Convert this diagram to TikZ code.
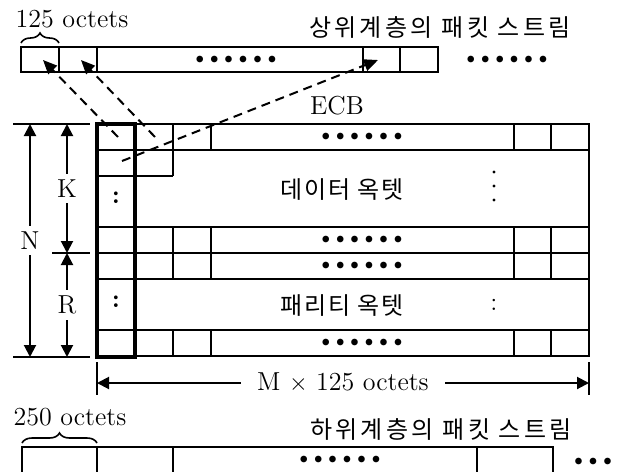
\documentclass[tikz,border=0pt]{standalone}
\usepackage{fontspec}
\newfontfamily\krfont[LetterSpace=14]{Noto Sans CJK KR}
\newfontfamily\krcell[LetterSpace=8]{Noto Sans CJK KR}
\usetikzlibrary{arrows.meta,decorations.pathreplacing}

\newcommand{\sixdots}{$\bullet$\hspace{3pt}$\bullet$\hspace{3pt}$\bullet$\hspace{3pt}$\bullet$\hspace{3pt}$\bullet$\hspace{3pt}$\bullet$}
\newcommand{\threedots}{$\bullet$\hspace{3pt}$\bullet$\hspace{3pt}$\bullet$}

\begin{document}
\begin{tikzpicture}[x=0.5pt, y=-0.5pt,
    cell/.style={draw, line width=1pt},
    col/.style={draw, line width=1.6pt},
    lbl/.style={font=\fontsize{13}{15}\selectfont, inner sep=1pt},
    krlbl/.style={font=\krfont\large, inner sep=1pt},
    krin/.style={font=\krcell\large, inner sep=1pt},
    dots/.style={font=\footnotesize, inner sep=0pt},
    dim/.style={{Triangle[length=6pt,width=6pt]}-{Triangle[length=6pt,width=6pt]}, line width=1pt},
    link/.style={-{Triangle[length=7pt,width=6pt]}, dash pattern=on 4.5pt off 3pt, line width=1pt},
    brace/.style={decorate, decoration={brace, amplitude=5pt}, line width=0.8pt}
]
\useasboundingbox (0,0) rectangle (619,471);
\clip (0,0) rectangle (619,471);

% Upper layer packet stream
\draw[cell] (21,47) rectangle (438,72);
\draw[cell] (59,47) -- (59,72) (97,47) -- (97,72) (363,47) -- (363,72) (400,47) -- (400,72);
\node[dots] (updots) at (236,60) {\sixdots};
\node[dots] (upmore) at (507,60) {\sixdots};
\draw[brace] (21,43) -- (59,43);
\node[lbl] (up125) at (72,19) {125 octets};
\node[krlbl] (upname) at (440,27) {상위계층의 패킷 스트림};
\node[lbl] (ecb) at (337,106) {ECB};

% ECB block
\draw[cell] (97,124) rectangle (589,356);
\foreach \y in {150,227,253,279,330}
    \draw[cell] (97,\y) -- (589,\y);
\draw[cell] (97,176) -- (173,176) (173,150) -- (173,176);
\foreach \x in {173,211,514,551}
    \draw[cell] (\x,124) -- (\x,150) (\x,227) -- (\x,279) (\x,330) -- (\x,356);
\draw[col] (97,124) rectangle (135,357);
\node[dots] (row1) at (362,137) {\sixdots};
\node[dots] (row2) at (362,240) {\sixdots};
\node[dots] (row3) at (362,266) {\sixdots};
\node[dots] (row4) at (362,343) {\sixdots};
\node[krin] (data) at (342,190) {데이터 옥텟};
\node[krin] (parity) at (342,306) {패리티 옥텟};
\node[lbl] (datacol) at (116,198) {\textbf{:}};
\node[lbl] (paritycol) at (116,302) {\textbf{:}};
\foreach \y in {172,186,200}
    \fill (494,\y) circle (0.8pt);
\node[lbl] (parityrow) at (494,305) {:};

% Dashed mapping
\coordinate (s1) at (118,137);
\coordinate (t1) at (43,60);
\coordinate (s2) at (155,137);
\coordinate (t2) at (81,60);
\coordinate (s3) at (122,161);
\coordinate (t3) at (378,60);
\draw[link] (s1) -- (t1);
\draw[link] (s2) -- (t2);
\draw[link] (s3) -- (t3);

% Left dimensions
\draw[cell] (13,124) -- (90,124) (13,357) -- (90,357) (52,253) -- (90,253);
\coordinate (ntop) at (30,124);
\coordinate (nbot) at (30,357);
\coordinate (ktop) at (67,124);
\coordinate (kbot) at (67,253);
\coordinate (rbot) at (67,357);
\draw[dim] (ntop) -- node[lbl, fill=white, inner ysep=3pt] (nlbl) {N} (nbot);
\draw[dim] (ktop) -- node[lbl, fill=white, inner ysep=3pt] (klbl) {K} (kbot);
\draw[dim] (kbot) -- node[lbl, fill=white, inner ysep=3pt] (rlbl) {R} (rbot);

% Bottom dimension
\draw[cell] (97,362) -- (97,395) (589,362) -- (589,395);
\coordinate (mleft) at (97,383);
\coordinate (mright) at (589,383);
\draw[dim] (mleft) -- node[lbl, fill=white, inner xsep=8pt] (mlbl) {M $\times$ 125 octets} (mright);

% Lower layer packet stream
\draw[cell] (22,447) rectangle (553,490);
\draw[cell] (97,447) -- (97,490) (173,447) -- (173,490) (477,447) -- (477,490);
\node[dots] (lowdots) at (340,460) {\sixdots};
\node[dots] (lowmore) at (593,462) {\threedots};
\draw[brace] (22,443) -- (97,443);
\node[lbl] (low250) at (70,417) {250 octets};
\node[krlbl] (lowname) at (441,429) {하위계층의 패킷 스트림};
\end{tikzpicture}
\end{document}
